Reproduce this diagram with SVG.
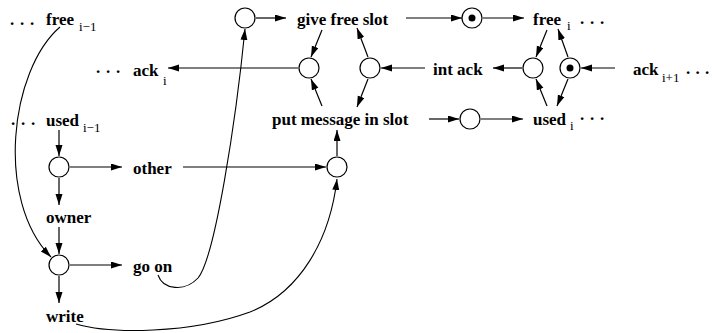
<svg xmlns="http://www.w3.org/2000/svg" width="712" height="333" viewBox="0 0 712 333">
<defs>
<marker id="ah" markerUnits="userSpaceOnUse" markerWidth="12" markerHeight="8" refX="11" refY="3.5" orient="auto">
<path d="M0,0 L11,3.5 L0,7 z" fill="#000"/>
</marker>
<style>
.lbl{font-family:"Liberation Serif","Times New Roman",serif;font-weight:bold;font-size:17px;fill:#000}
.sub{font-family:"Liberation Serif","Times New Roman",serif;font-size:13px;fill:#000}
.dots{font-family:"Liberation Serif","Times New Roman",serif;font-weight:bold;font-size:17px;fill:#000}
.pl{fill:#fff;stroke:#000;stroke-width:1.2}
.tok{fill:#000}
.e{fill:none;stroke:#000;stroke-width:1.2;marker-end:url(#ah)}
.c{fill:none;stroke:#000;stroke-width:1.1}
</style>
</defs>
<rect width="712" height="333" fill="#fff"/>

<g id="free_prev"><text class="dots" x="10 20 30" y="24.5">...</text><text class="lbl" x="46" y="25">free</text><text class="sub" x="79" y="31">i−1</text></g>
<g id="used_prev"><text class="dots" x="11 21 31" y="124.5">...</text><text class="lbl" x="46" y="126">used</text><text class="sub" x="83" y="132">i−1</text></g>
<g id="ack_i"><text class="dots" x="96 106 116" y="72.5">...</text><text class="lbl" x="133" y="76">ack</text><text class="sub" x="163" y="85">i</text></g>
<g id="give_free_slot"><text class="lbl" x="297" y="25">give free slot</text></g>
<g id="int_ack"><text class="lbl" x="433" y="75">int ack</text></g>
<g id="put_message"><text class="lbl" x="272" y="125">put message in slot</text></g>
<g id="free_i"><text class="lbl" x="533" y="25">free</text><text class="sub" x="567" y="30">i</text><text class="dots" x="580 590 600" y="23.5">...</text></g>
<g id="ack_next"><text class="lbl" x="633" y="75">ack</text><text class="sub" x="662" y="82">i+1</text><text class="dots" x="686 695.5 705" y="73.5">...</text></g>
<g id="used_i"><text class="lbl" x="533" y="125">used</text><text class="sub" x="570" y="130">i</text><text class="dots" x="580 590 600" y="119.5">...</text></g>
<g id="other"><text class="lbl" x="133" y="174">other</text></g>
<g id="owner"><text class="lbl" x="46" y="223">owner</text></g>
<g id="go_on"><text class="lbl" x="133" y="272">go on</text></g>
<g id="write"><text class="lbl" x="46" y="322">write</text></g>

<g id="p_top"><circle class="pl" cx="245" cy="18" r="10"/></g>
<g id="p_dot1"><circle class="pl" cx="472" cy="18" r="10"/><circle class="tok" cx="472" cy="18" r="3.5"/></g>
<g id="p_ackl"><circle class="pl" cx="309" cy="68" r="10"/></g>
<g id="p_int"><circle class="pl" cx="370" cy="68" r="10"/></g>
<g id="p_freel"><circle class="pl" cx="533" cy="68" r="10"/></g>
<g id="p_dot2"><circle class="pl" cx="570" cy="68" r="10"/><circle class="tok" cx="570" cy="68" r="3.5"/></g>
<g id="p_put"><circle class="pl" cx="470" cy="119" r="10"/></g>
<g id="p_other"><circle class="pl" cx="337" cy="167" r="10"/></g>
<g id="p_used"><circle class="pl" cx="59" cy="167" r="10"/></g>
<g id="p_owner"><circle class="pl" cx="59" cy="265" r="10"/></g>

<g id="connectors">
<line class="e" x1="256" y1="18" x2="286" y2="18"/>
<line class="e" x1="406" y1="18" x2="462" y2="18"/>
<line class="e" x1="483" y1="18" x2="524" y2="18"/>
<line class="e" x1="322" y1="30" x2="311" y2="57"/>
<line class="e" x1="368" y1="57" x2="357" y2="28"/>
<line class="e" x1="322" y1="106" x2="311" y2="79"/>
<line class="e" x1="368" y1="79" x2="357" y2="107"/>
<line class="e" x1="425" y1="68" x2="381" y2="68"/>
<line class="e" x1="298" y1="68" x2="168" y2="68"/>
<line class="e" x1="522" y1="68" x2="493" y2="68"/>
<line class="e" x1="615" y1="68" x2="581" y2="68"/>
<line class="e" x1="547" y1="30" x2="536" y2="57"/>
<line class="e" x1="568" y1="57" x2="558" y2="29"/>
<line class="e" x1="547" y1="106" x2="536" y2="79"/>
<line class="e" x1="568" y1="79" x2="557" y2="106"/>
<line class="e" x1="429" y1="119" x2="459" y2="119"/>
<line class="e" x1="481" y1="119" x2="523" y2="119"/>
<line class="e" x1="337" y1="156" x2="337" y2="130"/>
<line class="e" x1="183" y1="167" x2="326" y2="167"/>
<line class="e" x1="59" y1="130" x2="59" y2="156"/>
<line class="e" x1="70" y1="167" x2="122" y2="167"/>
<line class="e" x1="59" y1="178" x2="59" y2="205"/>
<line class="e" x1="59" y1="227" x2="59" y2="254"/>
<line class="e" x1="70" y1="265" x2="122" y2="265"/>
<line class="e" x1="59" y1="276" x2="59" y2="303"/>
<path class="c" marker-end="url(#ah)" d="M60,27 C10,70 -5,200 51,257"/>
<path class="c" marker-end="url(#ah)" d="M158,275 C163,290 185,292 198,278 C215,258 236,120 245,29"/>
<path class="c" marker-end="url(#ah)" d="M76,324 C110,334 190,334 250,312 C300,292 330,240 337,179"/>
</g>
</svg>
